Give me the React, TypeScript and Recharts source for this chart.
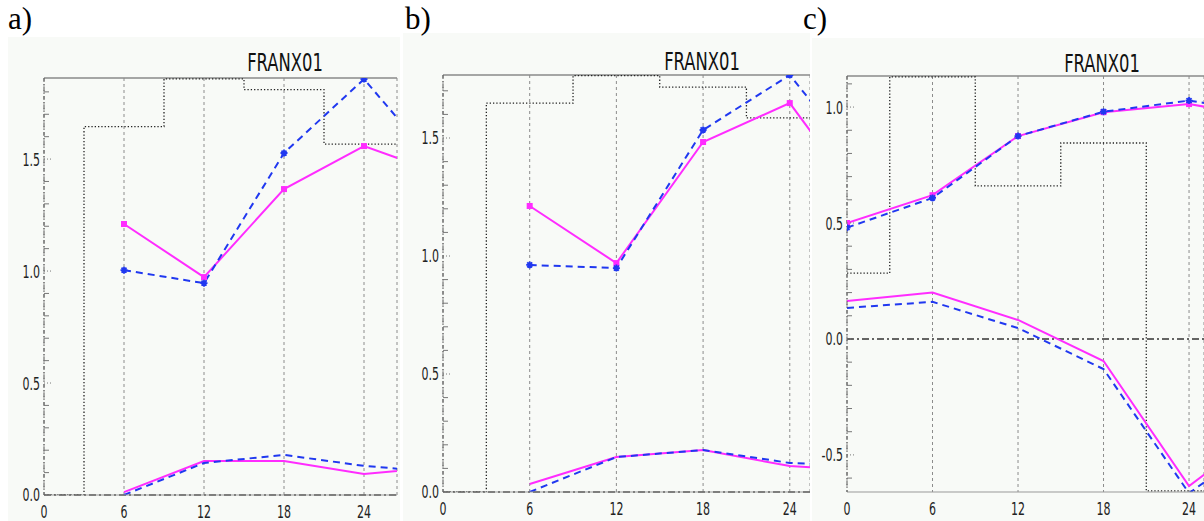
import { LineChart, Line, XAxis, YAxis, CartesianGrid, ReferenceLine } from 'recharts';

// forecast hours and bin edges of the dotted histogram
const HOURS = [6, 12, 18, 24, 30];
const HOURS_C = [0, 6, 12, 18, 24, 30];
const X_TICKS = [0, 6, 12, 18, 24];
const STEP_EDGES = [0, 3, 9, 15, 21, 27];

// a)
const A_RED_UP = [1.21, 0.973, 1.366, 1.558, 1.43];
const A_BLUE_UP = [1.004, 0.946, 1.527, 1.857, 1.44];
const A_RED_LOW = [0.013, 0.152, 0.152, 0.094, 0.125];
const A_BLUE_LOW = [0.0, 0.143, 0.179, 0.13, 0.1];
const A_STEP = [0, 1.645, 1.858, 1.81, 1.567, 1.567];
const A_Y_TICKS = [0, 0.1, 0.2, 0.3, 0.4, 0.5, 0.6, 0.7, 0.8, 0.9, 1.0, 1.1, 1.2, 1.3, 1.4, 1.5, 1.6, 1.7, 1.8];

// b)
const B_RED_UP = [1.212, 0.97, 1.483, 1.648, 1.15];
const B_BLUE_UP = [0.962, 0.949, 1.534, 1.767, 1.31];
const B_RED_LOW = [0.034, 0.148, 0.178, 0.11, 0.09];
const B_BLUE_LOW = [0.0, 0.148, 0.178, 0.123, 0.11];
const B_STEP = [0, 1.648, 1.764, 1.716, 1.585, 1.585];
const B_Y_TICKS = [0, 0.1, 0.2, 0.3, 0.4, 0.5, 0.6, 0.7, 0.8, 0.9, 1.0, 1.1, 1.2, 1.3, 1.4, 1.5, 1.6, 1.7];

// c)
const C_RED_UP = [0.5, 0.62, 0.875, 0.978, 1.013, 0.95];
const C_BLUE_UP = [0.48, 0.608, 0.875, 0.98, 1.028, 0.97];
const C_RED_LOW = [0.164, 0.2, 0.082, -0.095, -0.634, -0.36];
const C_BLUE_LOW = [0.134, 0.16, 0.047, -0.13, -0.665, -0.4];
const C_STEP = [0.284, 1.13, 0.66, 0.845, -0.655, -0.655];
const C_Y_TICKS = [-0.6, -0.5, -0.4, -0.3, -0.2, -0.1, 0, 0.1, 0.2, 0.3, 0.4, 0.5, 0.6, 0.7, 0.8, 0.9, 1.0, 1.1];

const SANS = '"DejaVu Sans Condensed", "Liberation Sans", sans-serif';
const SERIF = '"Liberation Serif", "DejaVu Serif", serif';
const BG = '#f8faf7';
const MAGENTA = '#ff2cff';
const BLUE = '#2038f0';
const SQUEEZE = 0.68; // the original uses a very narrow font

function YTick(props: any) {
  const { x, y, payload } = props;
  const v = payload.value;
  const major = Math.abs(v * 2 - Math.round(v * 2)) < 1e-6;
  return (
    <g>
      <line
        x1={x + 4}
        x2={x + (major ? 12 : 9)}
        y1={y}
        y2={y}
        stroke='#777'
        strokeDasharray={major ? '1 2' : undefined}
      />
      {major && (
        <text
          transform={`translate(${x} ${y}) scale(${SQUEEZE} 1)`}
          dy='0.36em'
          textAnchor='end'
          fontSize={18}
          fill='#222'
          fontFamily={SANS}
        >
          {v.toFixed(1)}
        </text>
      )}
    </g>
  );
}

function XTick(props: any) {
  const { x, y, payload } = props;
  return (
    <text
      transform={`translate(${x} ${y}) scale(${SQUEEZE} 1)`}
      dy='0.71em'
      textAnchor='middle'
      fontSize={18}
      fill='#222'
      fontFamily={SANS}
    >
      {payload.value}
    </text>
  );
}

function SquareDot(props: any) {
  const { cx, cy } = props;
  if (cx == null || cy == null) return null;
  return <rect x={cx - 3} y={cy - 3} width={6} height={6} fill={MAGENTA} />;
}

function StarDot(props: any) {
  const { cx, cy } = props;
  if (cx == null || cy == null) return null;
  return (
    <path
      d={`M${cx - 3.5},${cy} L${cx + 3.5},${cy} M${cx},${cy - 3.5} L${cx},${cy + 3.5} M${cx - 2.5},${cy - 2.5} L${cx + 2.5},${cy + 2.5} M${cx - 2.5},${cy + 2.5} L${cx + 2.5},${cy - 2.5}`}
      stroke={BLUE}
      strokeWidth={1.8}
    />
  );
}

interface PanelProps {
  left: number;
  top: number;
  width: number;
  height: number;
  margin: { top: number; right: number; left: number; bottom: number };
  xMax: number;
  yDomain: [number, number];
  yTicks: number[];
  hours: number[];
  redUp: number[];
  blueUp: number[];
  redLow: number[];
  blueLow: number[];
  step: number[];
}

function Panel(p: PanelProps) {
  const rows = p.hours.map((x, i) => ({
    x,
    redUp: p.redUp[i],
    blueUp: p.blueUp[i],
    redLow: p.redLow[i],
    blueLow: p.blueLow[i],
  }));
  const steps = STEP_EDGES.map((x, i) => ({ x, step: p.step[i] }));

  return (
    <div style={{ position: 'absolute', left: p.left, top: p.top, width: p.width, height: p.height, background: BG }}>
      <LineChart width={p.width} height={p.height} data={rows} margin={p.margin}>
        <CartesianGrid horizontal={false} stroke='#8c8c8c' strokeDasharray='3 3' />
        <XAxis
          type='number'
          dataKey='x'
          domain={[0, p.xMax]}
          allowDataOverflow
          ticks={X_TICKS}
          interval={0}
          tickLine={false}
          tickSize={0}
          tickMargin={10}
          height={24}
          axisLine={{ stroke: '#999' }}
          tick={(props: any) => <XTick {...props} />}
        />
        <YAxis
          type='number'
          domain={p.yDomain}
          allowDataOverflow
          ticks={p.yTicks}
          interval={0}
          tickLine={false}
          tickSize={0}
          tickMargin={4}
          width={30}
          axisLine={{ stroke: '#555', strokeDasharray: '4 2 1 2' }}
          tick={(props: any) => <YTick {...props} />}
        />
        <ReferenceLine y={p.yDomain[1]} stroke='#8a8a8a' strokeWidth={1.5} />
        <ReferenceLine y={0} stroke='#333' strokeWidth={1.6} strokeDasharray='7 3 2 3' />
        <Line
          data={steps}
          dataKey='step'
          type='stepAfter'
          stroke='#222'
          strokeWidth={1.3}
          strokeDasharray='1.3 2'
          dot={false}
          isAnimationActive={false}
        />
        <Line dataKey='redLow' type='linear' stroke={MAGENTA} strokeWidth={2} dot={false} isAnimationActive={false} />
        <Line
          dataKey='blueLow'
          type='linear'
          stroke={BLUE}
          strokeWidth={2}
          strokeDasharray='7 5'
          dot={false}
          isAnimationActive={false}
        />
        <Line
          dataKey='redUp'
          type='linear'
          stroke={MAGENTA}
          strokeWidth={2}
          dot={(props: any) => <SquareDot key={props.index} {...props} />}
          isAnimationActive={false}
        />
        <Line
          dataKey='blueUp'
          type='linear'
          stroke={BLUE}
          strokeWidth={2}
          strokeDasharray='7 5'
          dot={(props: any) => <StarDot key={props.index} {...props} />}
          isAnimationActive={false}
        />
      </LineChart>
    </div>
  );
}

const titleStyle = {
  position: 'absolute' as const,
  fontFamily: SANS,
  fontSize: 24,
  lineHeight: 1,
  color: '#111',
  transform: 'translateX(-50%) scaleX(0.76)',
  whiteSpace: 'nowrap' as const,
};

const letterStyle = {
  position: 'absolute' as const,
  fontFamily: SERIF,
  fontSize: 31,
  lineHeight: 1,
  color: '#000',
  top: 3,
};

export default function App() {
  return (
    <div style={{ position: 'fixed', left: 0, top: 0, width: 1204, height: 521, background: '#fff', overflow: 'hidden' }}>
      <Panel
        left={8}
        top={37}
        width={392}
        height={484}
        margin={{ top: 41, right: 3, left: 6, bottom: 2 }}
        xMax={26.475}
        yDomain={[0, 1.862]}
        yTicks={A_Y_TICKS}
        hours={HOURS}
        redUp={A_RED_UP}
        blueUp={A_BLUE_UP}
        redLow={A_RED_LOW}
        blueLow={A_BLUE_LOW}
        step={A_STEP}
      />
      <Panel
        left={403}
        top={33}
        width={407}
        height={488}
        margin={{ top: 42, right: 0, left: 10, bottom: 5 }}
        xMax={25.4}
        yDomain={[0, 1.767]}
        yTicks={B_Y_TICKS}
        hours={HOURS}
        redUp={B_RED_UP}
        blueUp={B_BLUE_UP}
        redLow={B_RED_LOW}
        blueLow={B_BLUE_LOW}
        step={B_STEP}
      />
      <Panel
        left={812}
        top={38}
        width={392}
        height={483}
        margin={{ top: 38, right: 0, left: 5, bottom: 5 }}
        xMax={25.05}
        yDomain={[-0.66, 1.134]}
        yTicks={C_Y_TICKS}
        hours={HOURS_C}
        redUp={C_RED_UP}
        blueUp={C_BLUE_UP}
        redLow={C_RED_LOW}
        blueLow={C_BLUE_LOW}
        step={C_STEP}
      />
      <div style={{ ...titleStyle, left: 285, top: 51 }}>FRANX01</div>
      <div style={{ ...titleStyle, left: 702, top: 50 }}>FRANX01</div>
      <div style={{ ...titleStyle, left: 1102, top: 52 }}>FRANX01</div>
      <div style={{ ...letterStyle, left: 8 }}>a)</div>
      <div style={{ ...letterStyle, left: 405 }}>b)</div>
      <div style={{ ...letterStyle, left: 803 }}>c)</div>
    </div>
  );
}
